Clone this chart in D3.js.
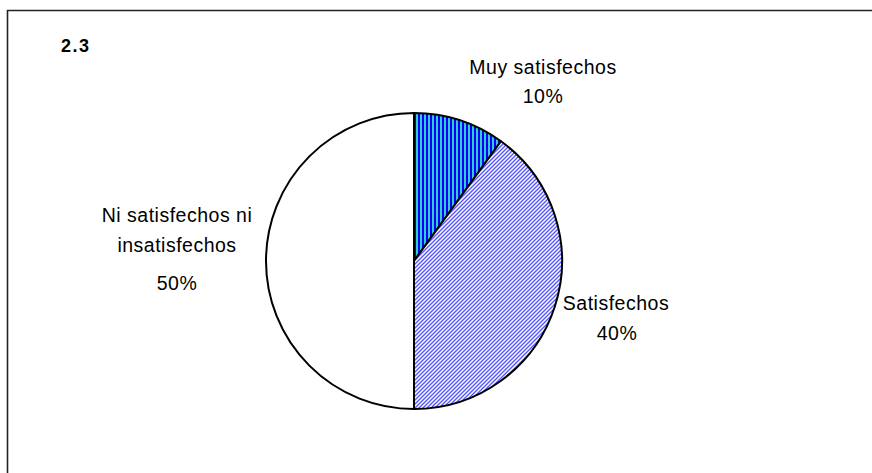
<!DOCTYPE html>
<html>
<head>
<meta charset="utf-8">
<script src="https://cdn.jsdelivr.net/npm/d3@7/dist/d3.min.js"></script>
<style>
  html, body { margin: 0; padding: 0; background: #fff; }
  svg { display: block; }
  text { font-family: "Liberation Sans", Arial, sans-serif; fill: #000; }
</style>
</head>
<body>
<svg id="chart" width="872" height="473"></svg>
<script>
// Satisfaction survey, item 2.3
const chartTitle = "2.3";
const categories = ["Muy satisfechos", "Satisfechos", "Ni satisfechos ni insatisfechos"];
const values = [10, 40, 50];
const percentLabels = ["10%", "40%", "50%"];

const svg = d3.select("#chart");
const W = 872, H = 473;

// Fill patterns for the slices
const defs = svg.append("defs");
const vert = defs.append("pattern")
  .attr("id", "pat-vertical").attr("patternUnits", "userSpaceOnUse")
  .attr("width", 4).attr("height", 4);
vert.append("rect").attr("width", 4).attr("height", 4).attr("fill", "#33CCCC");
vert.append("rect").attr("width", 2).attr("height", 4).attr("fill", "#0000FF");

const diag = defs.append("pattern")
  .attr("id", "pat-diagonal").attr("patternUnits", "userSpaceOnUse")
  .attr("width", 4).attr("height", 4);
diag.append("rect").attr("width", 4).attr("height", 4).attr("fill", "#fff");
diag.append("path").attr("d", "M-1,1 L1,-1 M0,4 L4,0 M3,5 L5,3")
  .attr("stroke", "#5555FF").attr("stroke-width", 1.4);

const fills = ["url(#pat-vertical)", "url(#pat-diagonal)", "#fff"];

// Frame (top and left edges)
svg.append("path")
  .attr("d", `M7.5,${H} L7.5,10.5 L${W},10.5`)
  .attr("fill", "none").attr("stroke", "#222").attr("stroke-width", 1.6);

svg.append("text")
  .attr("x", 61).attr("y", 52)
  .attr("font-size", 18).attr("font-weight", "bold")
  .attr("letter-spacing", 1.5)
  .text(chartTitle);

// Pie
const cx = 414, cy = 261, r = 148;
const pie = d3.pie().sort(null).value(d => d)
  .startAngle(0).endAngle(2 * Math.PI);
const arc = d3.arc().innerRadius(0).outerRadius(r);
const arcs = pie(values);

const g = svg.append("g").attr("transform", `translate(${cx},${cy})`);
g.selectAll("path.slice")
  .data(arcs)
  .join("path")
  .attr("class", "slice")
  .attr("d", arc)
  .attr("fill", (d, i) => fills[i])
  .attr("stroke", "#000")
  .attr("stroke-width", 2)
  .attr("stroke-linejoin", "round");

// Labels
const labelStyle = sel => sel
  .attr("font-size", 19.5)
  .attr("letter-spacing", 0.5)
  .attr("text-anchor", "middle");

const labelLines = [
  [{ t: "Muy satisfechos", x: 543, y: 74 }, { t: percentLabels[0], x: 543, y: 103 }],
  [{ t: "Satisfechos", x: 616, y: 310 }, { t: percentLabels[1], x: 617, y: 340 }],
  [{ t: "Ni satisfechos ni", x: 177, y: 222 }, { t: "insatisfechos", x: 177, y: 252 }, { t: percentLabels[2], x: 177, y: 290 }]
];
labelLines.forEach(lines => {
  lines.forEach(l => {
    svg.append("text").call(labelStyle)
      .attr("x", l.x).attr("y", l.y).text(l.t);
  });
});
</script>
</body>
</html>
